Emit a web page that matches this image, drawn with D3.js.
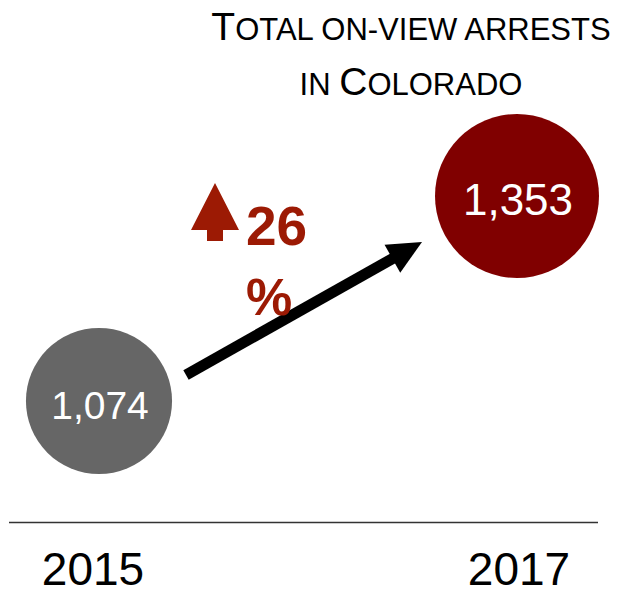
<!DOCTYPE html>
<html>
<head>
<meta charset="utf-8">
<script src="https://cdn.jsdelivr.net/npm/d3@7"></script>
<style>
  html, body { margin: 0; padding: 0; background: #fff; }
  svg { display: block; font-family: "Liberation Sans", Arial, sans-serif; }
</style>
</head>
<body>
<svg id="chart" width="629" height="594"></svg>
<script>
// ---- data ----
const years = ["2015", "2017"];
const arrests = [1074, 1353];
const valueLabels = ["1,074", "1,353"];
const changePct = "26";
const titleLines = [
  [["T", true], ["OTAL ON-VIEW ARRESTS", false]],
  [["IN ", false], ["C", true], ["OLORADO", false]]
];
const circleColors = ["#666666", "#800000"];
const accent = "#9c1a04";

const svg = d3.select("#chart");

// scales
const x = d3.scalePoint().domain(years).range([99, 517]);
const y = d3.scaleLinear().domain([1074, 1353]).range([401, 196]);
const r = d3.scaleSqrt().domain([0, 1353]).range([0, 82]);

// title
const title = svg.append("text")
  .attr("text-anchor", "middle")
  .attr("fill", "#000");
titleLines.forEach((parts, i) => {
  parts.forEach((p, j) => {
    const ts = title.append("tspan")
      .text(p[0])
      .attr("font-size", p[1] ? 39 : 31);
    if (j === 0) ts.attr("x", 411).attr("y", 40 + i * 55);
  });
});

// baseline
svg.append("line")
  .attr("x1", 9).attr("x2", 598)
  .attr("y1", 522.5).attr("y2", 522.5)
  .attr("stroke", "#333").attr("stroke-width", 1.5);

// year labels
svg.selectAll("text.year").data(years).join("text")
  .attr("class", "year")
  .attr("x", (d, i) => x(d) + (i === 0 ? -6 : 2))
  .attr("y", 585)
  .attr("text-anchor", "middle")
  .attr("font-size", 46)
  .attr("fill", "#000")
  .text(d => d);

// circles
svg.selectAll("circle.val").data(arrests).join("circle")
  .attr("class", "val")
  .attr("cx", (d, i) => x(years[i]))
  .attr("cy", d => y(d))
  .attr("r", d => r(d))
  .attr("fill", (d, i) => circleColors[i]);

svg.selectAll("text.val").data(arrests).join("text")
  .attr("class", "val")
  .attr("x", (d, i) => x(years[i]) + 1)
  .attr("y", (d, i) => y(d) + (i === 0 ? 18 : 19))
  .attr("text-anchor", "middle")
  .attr("font-size", (d, i) => i === 0 ? 39 : 44)
  .attr("fill", "#fff")
  .text((d, i) => valueLabels[i]);

// trend arrow
const x0 = x(years[0]) + 87, y0 = y(arrests[0]) - 26;
const x1 = x(years[1]) - 95, y1 = y(arrests[1]) + 46;
const ang = Math.atan2(y1 - y0, x1 - x0);
const headLen = 34, headW = 16;
const bx = x1 - headLen * Math.cos(ang), by = y1 - headLen * Math.sin(ang);
svg.append("line")
  .attr("x1", x0).attr("y1", y0)
  .attr("x2", bx + 4 * Math.cos(ang)).attr("y2", by + 4 * Math.sin(ang))
  .attr("stroke", "#000").attr("stroke-width", 11);
svg.append("path")
  .attr("d", d3.line()([
    [x1, y1],
    [bx - headW * Math.sin(ang), by + headW * Math.cos(ang)],
    [bx + headW * Math.sin(ang), by - headW * Math.cos(ang)]
  ]) + "Z")
  .attr("fill", "#000");

// up icon
svg.append("path")
  .attr("d", "M215,183 L239,230 L223,230 L223,241 L207,241 L207,230 L191,230 Z")
  .attr("fill", accent);

// change text
svg.append("text")
  .attr("x", 246).attr("y", 245)
  .attr("font-size", 55).attr("font-weight", "bold")
  .attr("fill", accent)
  .text(changePct);
svg.append("text")
  .attr("x", 246).attr("y", 315)
  .attr("font-size", 52).attr("font-weight", "bold")
  .attr("fill", accent)
  .text("%");
</script>
</body>
</html>
